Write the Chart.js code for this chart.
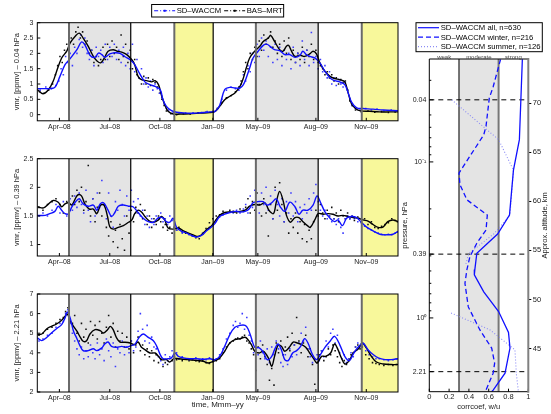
<!DOCTYPE html>
<html>
<head>
<meta charset="utf-8">
<script src="https://cdn.jsdelivr.net/npm/chart.js@4.4.0/dist/chart.umd.min.js"></script>
<style>
  body { margin: 0; background: #fff; width: 551px; height: 414px; position: relative; overflow: hidden; }
  canvas { position: absolute; }
</style>
</head>
<body>
<canvas id="pTop" width="402" height="135" style="left:0;top:0"></canvas>
<canvas id="pMid" width="402" height="130" style="left:0;top:140px"></canvas>
<canvas id="pBot" width="402" height="139" style="left:0;top:275px"></canvas>
<canvas id="pCor" width="155" height="414" style="left:396px;top:0"></canvas>
<script>
const FONT = '"Liberation Sans", Arial, sans-serif';
const BLUE = "#1010ff";

// x values are days counted from the start of the plotted period (22 Feb 2008)
const tickDays = [39, 128, 216.5, 310, 389.5, 492, 581];
const tickNames = ["Apr–08", "Jul–08", "Oct–08", "Jan–09", "May–09", "Aug–09", "Nov–09"];
const winterSpans = [[56, 165], [386, 496]];
const summerSpans = [[242, 310.6], [573, 637]];
const seriesNames = ["SD–WACCM", "BAS–MRT"];

// 0.04 hPa, smoothed
const wacTop = [[0,0.85],[11,0.85],[22,0.85],[31,0.89],[40,1.25],[49,1.63],[58,1.83],[70,2.12],[78,2.37],[84,2.28],[93,1.94],[102,1.87],[108,2.01],[114,1.96],[119,1.87],[128,1.98],[137,2.02],[146,2.0],[155,1.89],[164,1.79],[172,1.63],[181,1.33],[190,1.07],[199,0.98],[208,0.92],[217,0.82],[222,0.49],[228,0.27],[237,0.13],[246,0.08],[264,0.05],[281,0.05],[305,0.09],[314,0.11],[322,0.30],[331,0.82],[340,0.89],[349,0.87],[358,0.87],[364,0.98],[369,1.2],[375,1.52],[381,1.85],[390,2.07],[399,2.26],[405,2.3],[411,2.23],[419,2.12],[428,2.09],[437,1.96],[446,1.96],[455,1.87],[464,1.94],[469,2.07],[475,1.96],[481,1.90],[490,1.85],[499,1.69],[508,1.41],[517,1.2],[525,1.11],[534,1.07],[543,0.98],[549,0.71],[555,0.41],[564,0.22],[575,0.2],[593,0.18],[611,0.15],[637,0.13]];
const mrtTop = [[0,0.82],[10,0.68],[20,0.82],[28,1.09],[34,1.41],[43,1.85],[52,2.07],[58,2.34],[67,2.56],[74,2.66],[81,2.5],[90,2.23],[99,1.90],[105,1.76],[112,1.69],[119,1.87],[125,2.07],[134,2.12],[141,2.07],[149,2.04],[158,1.96],[167,1.79],[172,1.63],[178,1.25],[184,1.14],[193,1.11],[202,1.07],[208,1.11],[214,0.98],[219,0.65],[225,0.33],[231,0.11],[240,0.02],[252,0.02],[269,0.03],[287,0.05],[305,0.07],[314,0.11],[322,0.27],[331,0.49],[340,0.60],[349,0.71],[358,0.92],[364,1.2],[369,1.52],[375,1.85],[384,2.07],[393,2.23],[399,2.39],[408,2.5],[412,2.59],[419,2.39],[428,2.12],[434,2.07],[440,2.23],[444,2.26],[449,2.07],[455,1.90],[464,1.94],[472,1.90],[481,1.98],[487,2.07],[493,1.98],[499,1.69],[508,1.41],[517,1.25],[525,1.18],[534,1.14],[543,1.07],[549,0.71],[555,0.35],[561,0.22],[569,0.13],[587,0.11],[605,0.09],[622,0.09],[637,0.09]];
// 0.04 hPa, daily
const wacTopDaily = [[5,0.8],[15,0.9],[25,0.85],[33,0.95],[38,1.1],[42,1.5],[46,1.3],[50,1.9],[54,1.7],[58,2.0],[62,1.6],[66,2.2],[70,2.0],[74,2.45],[77,2.6],[80,2.2],[84,2.5],[88,2.0],[92,1.8],[96,2.1],[100,1.6],[104,2.2],[108,1.9],[112,2.1],[116,1.7],[120,2.3],[124,1.8],[128,2.2],[132,1.9],[136,2.3],[140,1.8],[144,2.1],[148,1.7],[152,2.2],[156,1.6],[160,2.0],[164,1.5],[168,2.3],[172,1.4],[176,1.8],[180,1.2],[184,1.5],[188,1.0],[192,1.2],[196,0.9],[200,1.1],[204,0.8],[208,1.0],[212,0.85],[216,0.7],[220,0.55],[224,0.35],[228,0.2],[232,0.15],[240,0.08],[250,0.06],[262,0.05],[275,0.06],[290,0.07],[300,0.1],[310,0.1],[318,0.2],[326,0.5],[334,0.8],[342,0.9],[350,0.85],[356,0.8],[360,1.0],[364,1.3],[368,1.1],[372,1.6],[376,1.4],[380,2.0],[384,1.7],[388,2.3],[392,1.9],[396,2.5],[400,2.1],[404,2.4],[408,1.9],[412,2.2],[416,1.7],[420,2.3],[424,1.8],[428,2.2],[432,1.6],[436,2.1],[440,1.8],[444,2.0],[448,1.5],[452,2.2],[456,1.7],[460,2.0],[464,1.6],[468,2.4],[472,1.8],[476,2.1],[480,1.6],[484,2.68],[488,1.7],[492,1.9],[496,1.5],[500,1.8],[504,1.4],[508,1.6],[512,1.2],[516,1.4],[520,1.0],[524,1.2],[528,0.95],[532,1.15],[536,1.0],[540,0.9],[544,1.05],[548,0.8],[552,0.5],[556,0.3],[562,0.2],[570,0.15],[580,0.2],[590,0.15],[600,0.18],[612,0.12],[625,0.15],[634,0.12]];
const mrtTopDaily = [[4,0.75],[12,0.7],[20,0.8],[27,1.0],[32,1.3],[36,1.6],[40,1.9],[44,1.7],[48,2.1],[52,2.3],[56,2.0],[60,2.5],[64,2.3],[68,2.7],[72,2.85],[76,2.5],[80,2.7],[84,2.3],[88,2.4],[92,2.0],[96,2.1],[100,1.7],[104,1.9],[108,1.6],[112,1.8],[116,2.2],[120,1.8],[124,2.3],[128,1.9],[132,2.4],[136,2.0],[140,2.2],[144,1.8],[148,2.6],[152,1.9],[156,2.3],[160,1.7],[164,2.1],[168,1.5],[172,1.8],[176,1.3],[180,1.2],[184,1.0],[188,1.25],[192,1.0],[196,1.2],[200,0.95],[204,1.15],[208,1.05],[212,0.9],[216,0.7],[220,0.5],[224,0.3],[228,0.12],[236,0.03],[246,0.0],[258,0.03],[270,0.02],[284,0.06],[298,0.08],[310,0.1],[318,0.2],[326,0.4],[334,0.55],[342,0.62],[350,0.75],[356,0.9],[360,1.1],[364,1.4],[368,1.7],[372,1.5],[376,2.0],[380,1.8],[384,2.2],[388,1.9],[392,2.4],[396,2.1],[400,2.6],[404,2.3],[408,2.5],[412,2.7],[416,2.2],[420,2.4],[424,2.0],[428,2.3],[432,1.9],[436,2.4],[440,2.0],[444,2.5],[448,1.8],[452,2.1],[456,1.7],[460,2.0],[464,1.8],[468,2.2],[472,1.7],[476,2.1],[480,1.9],[484,2.3],[488,1.8],[492,2.1],[496,1.7],[500,1.6],[504,1.5],[508,1.3],[512,1.4],[516,1.2],[520,1.3],[524,1.1],[528,1.2],[532,1.0],[536,1.15],[540,1.05],[544,1.1],[548,0.8],[552,0.45],[556,0.3],[562,0.15],[572,0.1],[584,0.12],[596,0.08],[608,0.1],[620,0.07],[632,0.09]];

// 0.39 hPa, smoothed
const wacMid = [[0,1.51],[14,1.51],[22,1.54],[31,1.58],[37,1.67],[43,1.60],[49,1.54],[55,1.54],[61,1.66],[67,1.74],[74,1.80],[81,1.71],[90,1.67],[99,1.69],[105,1.60],[111,1.71],[117,1.73],[124,1.62],[131,1.49],[137,1.56],[143,1.67],[152,1.69],[161,1.67],[169,1.66],[178,1.56],[187,1.46],[196,1.40],[205,1.39],[214,1.47],[221,1.47],[228,1.40],[234,1.39],[240,1.46],[246,1.30],[255,1.23],[264,1.20],[272,1.16],[281,1.13],[290,1.16],[299,1.24],[308,1.31],[314,1.37],[322,1.49],[331,1.53],[340,1.56],[349,1.58],[358,1.57],[367,1.58],[374,1.62],[381,1.73],[390,1.75],[399,1.75],[406,1.69],[414,1.73],[422,1.80],[429,1.66],[437,1.58],[446,1.74],[455,1.66],[462,1.53],[469,1.60],[478,1.60],[487,1.69],[494,1.85],[500,1.74],[508,1.57],[517,1.46],[525,1.40],[531,1.43],[539,1.33],[546,1.46],[555,1.49],[564,1.47],[572,1.39],[581,1.31],[593,1.24],[605,1.18],[617,1.17],[628,1.18],[637,1.23]];
const mrtMid = [[0,1.66],[11,1.64],[20,1.71],[28,1.77],[37,1.74],[43,1.66],[49,1.71],[55,1.73],[61,1.69],[67,1.80],[72,1.87],[78,1.85],[84,1.71],[92,1.62],[99,1.62],[105,1.54],[112,1.69],[118,1.69],[124,1.49],[128,1.31],[134,1.27],[143,1.30],[152,1.33],[161,1.39],[167,1.43],[172,1.54],[178,1.60],[184,1.57],[190,1.49],[198,1.41],[205,1.39],[214,1.43],[219,1.49],[225,1.43],[231,1.29],[240,1.27],[249,1.29],[258,1.24],[267,1.20],[275,1.17],[284,1.14],[290,1.17],[299,1.26],[308,1.33],[314,1.41],[322,1.51],[331,1.56],[340,1.57],[349,1.57],[358,1.58],[367,1.60],[375,1.67],[384,1.70],[393,1.69],[402,1.73],[409,1.60],[417,1.54],[422,1.74],[428,1.93],[434,1.77],[440,1.51],[447,1.39],[455,1.47],[462,1.47],[469,1.40],[477,1.33],[482,1.30],[490,1.43],[496,1.54],[505,1.53],[514,1.54],[522,1.53],[531,1.50],[540,1.51],[549,1.49],[558,1.47],[567,1.46],[575,1.43],[584,1.41],[593,1.35],[602,1.30],[611,1.31],[619,1.40],[628,1.43],[637,1.40]];
// 0.39 hPa, daily
const wacMidDaily = [[3,1.5],[10,1.55],[18,1.5],[26,1.6],[33,1.7],[40,1.55],[46,1.75],[52,1.5],[58,1.8],[62,1.6],[66,1.85],[70,1.65],[74,1.9],[78,1.7],[82,1.55],[86,1.95],[90,1.6],[94,1.4],[98,1.8],[102,1.5],[106,1.9],[110,1.65],[114,2.12],[118,1.7],[122,1.45],[126,1.9],[130,1.5],[134,1.3],[138,1.75],[142,1.6],[146,1.95],[150,1.7],[154,1.5],[158,1.85],[162,1.6],[166,1.95],[170,1.75],[174,1.55],[178,1.8],[182,1.5],[186,1.6],[190,1.35],[194,1.5],[198,1.3],[202,1.45],[206,1.35],[210,1.5],[214,1.45],[218,1.55],[222,1.4],[226,1.45],[230,1.35],[234,1.5],[238,1.42],[242,1.3],[246,1.25],[250,1.28],[256,1.2],[262,1.22],[268,1.17],[274,1.15],[280,1.13],[286,1.15],[292,1.2],[298,1.25],[304,1.3],[310,1.35],[316,1.42],[322,1.48],[328,1.52],[334,1.55],[340,1.57],[346,1.55],[352,1.6],[358,1.55],[364,1.62],[368,1.7],[372,1.55],[376,1.85],[380,1.65],[384,1.95],[388,1.7],[392,1.55],[396,1.9],[400,1.7],[404,2.0],[408,1.6],[412,1.85],[416,1.45],[420,1.95],[424,1.7],[428,1.5],[432,1.8],[436,1.4],[440,1.75],[444,1.55],[448,1.9],[452,1.5],[456,1.75],[460,1.4],[464,1.65],[468,1.45],[472,1.7],[476,1.55],[480,1.8],[484,1.6],[488,1.9],[492,2.05],[496,1.75],[500,1.6],[504,1.5],[508,1.6],[512,1.45],[516,1.5],[520,1.4],[524,1.45],[528,1.35],[532,1.45],[536,1.3],[540,1.2],[544,1.45],[548,1.5],[552,1.45],[556,1.5],[560,1.45],[566,1.4],[572,1.38],[578,1.32],[584,1.28],[590,1.25],[596,1.22],[602,1.2],[608,1.18],[614,1.17],[620,1.18],[626,1.17],[632,1.2],[636,1.22]];
const mrtMidDaily = [[3,1.65],[10,1.6],[18,1.7],[26,1.75],[33,1.8],[40,1.7],[46,1.55],[52,1.75],[58,1.6],[62,1.85],[66,1.7],[70,1.95],[74,1.75],[78,2.0],[82,1.6],[86,1.75],[90,2.38],[94,1.5],[98,1.8],[102,1.4],[106,1.65],[110,1.9],[114,1.5],[118,1.7],[122,1.3],[126,1.15],[130,1.4],[134,1.05],[138,1.25],[142,0.95],[146,1.35],[150,1.1],[154,0.9],[158,1.5],[162,1.2],[166,1.6],[170,1.4],[174,1.65],[178,1.55],[182,1.7],[186,1.45],[190,1.6],[194,1.35],[198,1.5],[202,1.3],[206,1.45],[210,1.35],[214,1.5],[218,1.4],[222,1.3],[226,1.35],[230,1.25],[234,1.3],[238,1.2],[242,1.3],[246,1.25],[250,1.3],[256,1.22],[262,1.2],[268,1.18],[274,1.15],[280,1.12],[286,1.1],[292,1.18],[298,1.28],[304,1.38],[310,1.45],[316,1.5],[322,1.52],[328,1.58],[334,1.55],[340,1.6],[346,1.58],[352,1.55],[358,1.62],[364,1.58],[368,1.65],[372,1.8],[376,1.55],[380,1.75],[384,1.6],[388,1.9],[392,1.7],[396,1.5],[400,1.8],[404,1.55],[408,1.15],[412,1.7],[416,1.45],[420,2.0],[424,1.6],[428,2.08],[432,1.7],[436,1.4],[440,1.55],[444,1.2],[448,1.45],[452,1.3],[456,1.55],[460,1.2],[464,1.4],[468,1.1],[472,1.35],[476,1.05],[480,1.25],[484,1.1],[488,1.4],[492,1.6],[496,1.5],[500,1.7],[504,1.55],[508,1.45],[512,1.6],[516,1.5],[520,1.65],[524,1.45],[528,1.55],[532,1.4],[536,1.6],[540,1.5],[544,1.45],[548,1.55],[552,1.45],[556,1.5],[560,1.42],[566,1.48],[572,1.4],[578,1.45],[584,1.35],[590,1.4],[596,1.3],[602,1.28],[608,1.32],[614,1.35],[620,1.38],[626,1.45],[632,1.42],[636,1.4]];

// 2.21 hPa, smoothed
const wacBot = [[0,4.76],[8,4.62],[17,4.79],[25,5.01],[34,5.23],[43,5.44],[49,5.78],[53,6.08],[58,5.78],[64,5.10],[70,4.72],[75,4.38],[81,4.11],[90,4.11],[99,4.21],[105,4.11],[114,4.25],[119,4.45],[125,4.55],[131,4.33],[140,4.28],[149,4.33],[158,4.28],[167,4.38],[172,4.42],[180,4.79],[187,4.96],[196,4.79],[205,4.62],[211,4.33],[217,3.91],[222,3.70],[231,3.70],[237,3.74],[243,3.99],[249,3.82],[258,3.74],[269,3.70],[281,3.70],[293,3.67],[305,3.70],[314,3.65],[322,3.82],[331,4.33],[340,4.93],[349,5.30],[358,5.40],[367,5.40],[372,5.23],[378,4.76],[384,4.28],[392,4.25],[399,4.04],[406,3.65],[414,3.82],[419,4.16],[425,4.45],[431,4.16],[437,3.65],[443,3.60],[451,3.99],[458,4.11],[465,4.33],[472,4.72],[478,4.50],[486,3.91],[493,3.65],[500,3.91],[508,4.28],[517,4.59],[525,4.84],[534,4.42],[543,3.82],[551,3.60],[559,3.99],[568,4.33],[575,4.50],[584,4.16],[593,3.91],[602,3.74],[614,3.65],[625,3.65],[637,3.70]];
const mrtBot = [[0,4.93],[8,4.96],[17,5.23],[25,5.35],[34,5.47],[43,5.66],[49,5.86],[53,5.98],[58,5.64],[64,5.35],[70,5.10],[75,4.84],[81,4.59],[87,4.62],[93,4.96],[102,5.18],[111,5.13],[117,5.01],[124,5.18],[129,5.35],[134,5.18],[140,4.76],[146,4.55],[155,4.54],[164,4.50],[172,4.42],[178,4.55],[184,4.28],[190,4.16],[199,3.99],[208,3.99],[214,3.82],[219,3.65],[228,3.65],[234,3.53],[241,3.70],[249,3.70],[258,3.67],[267,3.65],[275,3.63],[284,3.60],[293,3.57],[302,3.48],[314,3.60],[322,3.74],[331,4.08],[340,4.50],[349,4.67],[358,4.72],[367,4.79],[372,4.67],[378,4.42],[384,4.08],[392,3.99],[399,4.08],[408,3.74],[414,3.31],[419,3.82],[425,4.38],[431,4.33],[437,4.08],[445,4.28],[452,4.55],[459,4.50],[467,4.42],[474,4.28],[481,3.99],[488,3.70],[494,3.48],[502,3.82],[509,3.82],[518,3.99],[525,4.45],[531,4.16],[537,3.74],[543,3.43],[551,3.60],[558,3.99],[567,4.21],[574,4.50],[581,4.25],[590,3.82],[599,3.53],[611,3.43],[625,3.40],[637,3.40]];
// 2.21 hPa, daily
const wacBotDaily = [[3,4.6],[10,4.7],[18,4.9],[26,5.0],[33,5.3],[40,5.5],[46,5.6],[50,6.0],[54,6.2],[58,5.5],[62,5.0],[66,4.6],[70,4.2],[74,3.9],[78,4.3],[82,3.7],[86,4.1],[90,3.8],[94,4.4],[98,4.0],[102,3.7],[106,4.5],[110,3.9],[114,4.2],[118,3.6],[122,4.7],[126,4.1],[130,3.8],[134,4.5],[138,3.3],[142,4.2],[146,4.0],[150,4.6],[154,3.9],[158,4.3],[162,4.0],[166,4.6],[170,4.1],[174,4.3],[178,5.1],[182,6.0],[186,5.2],[190,4.6],[194,5.4],[198,4.5],[202,4.8],[206,4.3],[210,4.2],[214,3.8],[218,3.6],[222,3.4],[226,3.9],[230,3.6],[234,3.8],[238,4.1],[242,3.8],[246,4.0],[250,3.7],[256,3.8],[262,3.7],[268,3.65],[274,3.7],[280,3.75],[286,3.65],[292,3.7],[298,3.65],[304,3.75],[310,3.6],[316,3.7],[322,3.9],[328,4.2],[334,4.7],[340,5.0],[346,5.4],[350,5.6],[354,5.3],[358,5.5],[362,6.0],[366,5.2],[370,5.8],[374,4.9],[378,4.6],[382,4.0],[386,4.5],[390,3.9],[394,4.6],[398,4.0],[402,3.7],[406,4.2],[410,3.5],[414,4.3],[418,3.9],[422,4.6],[426,4.2],[430,3.5],[434,3.3],[438,3.9],[442,3.4],[446,4.2],[450,3.8],[454,4.4],[458,3.9],[462,4.5],[466,5.0],[470,4.6],[474,5.3],[478,4.2],[482,3.8],[486,3.5],[490,3.7],[494,3.9],[498,3.6],[502,4.1],[506,3.8],[510,4.6],[514,4.3],[518,5.0],[522,5.2],[526,4.5],[530,4.9],[534,4.0],[538,3.7],[542,3.9],[546,3.5],[550,3.7],[554,4.0],[558,3.8],[562,4.3],[566,4.5],[570,4.3],[574,4.4],[580,4.1],[586,3.9],[592,3.8],[598,3.7],[604,3.7],[612,3.65],[620,3.6],[628,3.65],[634,3.7]];
const mrtBotDaily = [[3,4.9],[10,5.0],[18,5.2],[26,5.3],[33,5.5],[40,5.7],[46,5.8],[50,6.1],[54,6.3],[58,5.7],[62,5.5],[66,5.9],[70,5.0],[74,4.6],[78,5.5],[82,4.8],[86,5.2],[90,4.5],[94,5.6],[98,4.9],[102,5.4],[106,4.7],[110,5.6],[114,5.0],[118,4.5],[122,5.3],[126,5.9],[130,4.8],[134,5.5],[138,4.3],[142,5.1],[146,4.6],[150,5.0],[154,4.3],[158,4.8],[162,4.2],[166,4.6],[170,4.0],[174,4.4],[178,4.8],[182,4.1],[186,4.4],[190,3.9],[194,4.2],[198,3.8],[202,4.1],[206,3.6],[210,3.9],[214,3.5],[218,3.7],[222,3.3],[226,3.5],[230,3.4],[234,3.7],[238,3.6],[242,3.8],[246,3.65],[250,3.7],[256,3.6],[262,3.7],[268,3.6],[274,3.65],[280,3.6],[286,3.55],[292,3.6],[298,3.5],[304,3.45],[310,3.55],[316,3.6],[322,3.7],[328,4.0],[334,4.3],[340,4.5],[346,4.6],[350,4.7],[354,4.75],[358,4.7],[362,4.8],[366,4.9],[370,4.6],[374,4.5],[378,4.2],[382,3.9],[386,3.1],[390,4.3],[394,3.7],[398,4.4],[402,3.8],[406,3.4],[410,2.6],[414,3.2],[418,2.35],[422,4.5],[426,4.0],[430,4.6],[434,3.9],[438,4.3],[442,4.8],[446,4.1],[450,5.0],[454,4.4],[458,5.8],[462,4.6],[466,4.0],[470,4.5],[474,4.9],[478,3.8],[482,4.2],[486,3.4],[490,2.4],[494,3.5],[498,3.9],[502,4.1],[506,3.6],[510,3.8],[514,4.2],[518,3.9],[522,4.4],[526,4.1],[530,3.8],[534,3.5],[538,3.3],[542,3.6],[546,3.4],[550,3.7],[554,3.9],[558,4.0],[562,4.3],[566,4.4],[570,4.2],[574,4.3],[580,3.9],[586,3.7],[592,3.5],[598,3.45],[604,3.4],[612,3.35],[620,3.4],[628,3.35],[634,3.4]];

// correlation profiles: [corrcoef, pressure hPa]
const profileNames = ["SD–WACCM all, n=630", "SD–WACCM winter, n=216", "SD–WACCM summer, n=126"];
const corrAll = [[0.94,0.022],[0.91,0.072],[0.85,0.113],[0.81,0.219],[0.69,0.29],[0.48,0.385],[0.46,0.49],[0.455,0.53],[0.55,0.68],[0.70,0.91],[0.80,1.24],[0.815,1.56],[0.765,2.26],[0.645,2.9],[0.63,2.97]];
const corrWinter = [[0.72,0.022],[0.645,0.033],[0.606,0.039],[0.573,0.059],[0.55,0.067],[0.30,0.118],[0.31,0.14],[0.38,0.175],[0.586,0.219],[0.573,0.273],[0.48,0.332],[0.41,0.405],[0.38,0.49],[0.36,0.6],[0.394,0.85],[0.51,1.19],[0.63,1.56],[0.66,1.95],[0.645,2.26],[0.573,2.9],[0.565,2.97]];
const corrSummer = [[0.226,0.04],[0.70,0.072],[0.85,0.113],[0.815,0.219],[0.65,0.29],[0.40,0.385],[0.37,0.45],null,[0.22,0.93],[0.61,1.19],[0.865,1.6],[0.88,2.3],[0.90,2.97]];
const refLevels = [0.04, 0.39, 2.21];
const pMajor = [0.04, 0.1, 0.39, 1, 2.21];
const pMajorNames = ["0.04", "10⁻¹", "0.39", "10⁰", "2.21"];
const pMinor = [0.03, 0.05, 0.06, 0.07, 0.08, 0.09, 0.2, 0.3, 0.4, 0.5, 0.6, 0.7, 0.8, 0.9, 2];
const altTicks = [45, 50, 55, 60, 65, 70];
const corrTicks = [0, 0.2, 0.4, 0.6, 0.8, 1];
const strengthNames = ["weak", "moderate", "strong"];
const strengthEdges = [0, 0.3, 0.7, 1];

const toXY = pairs => pairs.map(p => p ? { x: p[0], y: p[1] } : { x: null, y: null });

const seasonPlugin = {
  id: "seasons",
  beforeDatasetsDraw(chart) {
    const { ctx, chartArea: a, scales: { x } } = chart;
    ctx.save();
    const band = (spans, color) => {
      ctx.fillStyle = color;
      spans.forEach(([d0, d1]) => {
        const x0 = x.getPixelForValue(d0), x1 = x.getPixelForValue(d1);
        ctx.fillRect(x0, a.top, x1 - x0, a.bottom - a.top);
      });
    };
    band(winterSpans, "#e4e4e4");
    band(summerSpans, "#f8f89b");
    ctx.restore();
  },
  afterDatasetsDraw(chart) {
    const { ctx, chartArea: a, scales: { x, y } } = chart;
    ctx.save();
    const vline = (d, color, w) => {
      const px = x.getPixelForValue(d);
      ctx.strokeStyle = color;
      ctx.lineWidth = w;
      ctx.beginPath();
      ctx.moveTo(px, a.top);
      ctx.lineTo(px, a.bottom);
      ctx.stroke();
    };
    winterSpans.concat(summerSpans).forEach(([d0, d1]) => {
      vline(d0, "#6a6a6a", 2);
      if (d1 < x.max) vline(d1, "#000", 1.2);
    });
    ctx.strokeStyle = "#000";
    ctx.lineWidth = 1;
    ctx.beginPath();
    x.ticks.forEach(t => {
      const px = x.getPixelForValue(t.value);
      ctx.moveTo(px, a.bottom);
      ctx.lineTo(px, a.bottom - 3);
    });
    y.ticks.forEach(t => {
      const py = y.getPixelForValue(t.value);
      ctx.moveTo(a.left, py);
      ctx.lineTo(a.left + 3, py);
    });
    ctx.stroke();
    ctx.strokeRect(a.left, a.top, a.right - a.left, a.bottom - a.top);
    ctx.restore();
  }
};

const topLegend = {
  id: "topLegend",
  afterDraw(chart) {
    const { ctx, chartArea: a } = chart;
    const w = 132, h = 12.5, top = 4.5;
    const left = (a.left + a.right) / 2 - w / 2;
    ctx.save();
    ctx.fillStyle = "#fff";
    ctx.fillRect(left, top, w, h);
    ctx.strokeStyle = "#000";
    ctx.lineWidth = 1;
    ctx.strokeRect(left, top, w, h);
    const item = (x0, color, text) => {
      const yy = top + h / 2;
      ctx.strokeStyle = color;
      ctx.lineWidth = 1;
      ctx.setLineDash([4, 2, 1, 2]);
      ctx.beginPath();
      ctx.moveTo(x0, yy);
      ctx.lineTo(x0 + 21, yy);
      ctx.stroke();
      ctx.setLineDash([]);
      ctx.fillStyle = color;
      ctx.fillRect(x0 + 9.5, yy - 1, 2, 2);
      ctx.fillStyle = "#000";
      ctx.font = "7.7px " + FONT;
      ctx.textBaseline = "middle";
      ctx.fillText(text, x0 + 22.5, yy + 0.5);
    };
    item(left + 2.5, BLUE, seriesNames[0]);
    item(left + 72.5, "#000", seriesNames[1]);
    ctx.restore();
  }
};

function seriesChart(id, o) {
  const line = (pairs, color) => ({
    data: toXY(pairs), showLine: true, borderColor: color, borderWidth: 1.4,
    pointRadius: 0, tension: 0.35
  });
  const dots = (pairs, color) => ({
    data: toXY(pairs), showLine: false, pointStyle: "rect", pointRadius: 1.1,
    pointBorderWidth: 0, pointBackgroundColor: color, backgroundColor: color
  });
  return new Chart(document.getElementById(id), {
    type: "scatter",
    data: {
      datasets: [
        line(o.wac, BLUE),
        line(o.mrt, "#000"),
        dots(o.wacDaily, "#3a3aff"),
        dots(o.mrtDaily, "#111")
      ]
    },
    options: {
      responsive: false,
      animation: false,
      layout: { padding: { top: o.padTop, right: 3.7, left: 0, bottom: 0 } },
      plugins: { legend: { display: false }, tooltip: { enabled: false } },
      scales: {
        x: {
          type: "linear", min: 0, max: 637,
          afterFit: s => { s.height = o.xHeight; },
          afterBuildTicks: s => { s.ticks = tickDays.map(v => ({ value: v })); },
          ticks: {
            autoSkip: false, maxRotation: 0, padding: 2, color: "#222",
            font: { family: FONT, size: 7 },
            callback: (v, i) => tickNames[i]
          },
          grid: { display: false, drawTicks: false },
          border: { display: false },
          title: {
            display: !!o.xTitle, text: o.xTitle || "", color: "#222",
            font: { family: FONT, size: 8 }, padding: { top: 0, bottom: 4.2 }
          }
        },
        y: {
          type: "linear", min: o.yMin, max: o.yMax,
          afterFit: s => { s.width = 37.3; },
          afterBuildTicks: s => { s.ticks = o.yTicks.map(v => ({ value: v })); },
          ticks: {
            padding: 4, color: "#222", font: { family: FONT, size: 7 },
            callback: v => String(v)
          },
          grid: { display: false, drawTicks: false },
          border: { display: false },
          title: {
            display: true, text: o.yTitle, color: "#222",
            font: { family: FONT, size: 7.5 }, padding: { top: 12.5, bottom: 0 }
          }
        }
      }
    },
    plugins: o.legend ? [seasonPlugin, topLegend] : [seasonPlugin]
  });
}

seriesChart("pTop", {
  wac: wacTop, mrt: mrtTop, wacDaily: wacTopDaily, mrtDaily: mrtTopDaily,
  padTop: 22.7, xHeight: 14.2, yMin: -0.2, yMax: 3, yTicks: [0, 0.5, 1, 1.5, 2, 2.5, 3],
  yTitle: "vmr, [ppmv] – 0.04 hPa", legend: true
});
seriesChart("pMid", {
  wac: wacMid, mrt: mrtMid, wacDaily: wacMidDaily, mrtDaily: mrtMidDaily,
  padTop: 18.7, xHeight: 14, yMin: 0.8, yMax: 2.5, yTicks: [1, 1.5, 2, 2.5],
  yTitle: "vmr, [ppmv] – 0.39 hPa"
});
seriesChart("pBot", {
  wac: wacBot, mrt: mrtBot, wacDaily: wacBotDaily, mrtDaily: mrtBotDaily,
  padTop: 19, xHeight: 22, yMin: 2, yMax: 7, yTicks: [2, 3, 4, 5, 6, 7],
  yTitle: "vmr, [ppmv] – 2.21 hPa", xTitle: "time, Mmm–yy"
});

const corrPlugin = {
  id: "corrDeco",
  beforeDatasetsDraw(chart) {
    const { ctx, chartArea: a, scales: { x } } = chart;
    const x0 = x.getPixelForValue(strengthEdges[1]), x1 = x.getPixelForValue(strengthEdges[2]);
    ctx.save();
    ctx.fillStyle = "#e4e4e4";
    ctx.fillRect(x0, a.top, x1 - x0, a.bottom - a.top);
    ctx.lineWidth = 1.5;
    ctx.strokeStyle = "#4a4a4a";
    ctx.beginPath(); ctx.moveTo(x0, a.top); ctx.lineTo(x0, a.bottom); ctx.stroke();
    ctx.lineWidth = 2;
    ctx.strokeStyle = "#777";
    ctx.beginPath(); ctx.moveTo(x1, a.top); ctx.lineTo(x1, a.bottom); ctx.stroke();
    ctx.restore();
  },
  afterDraw(chart) {
    const { ctx, chartArea: a, scales: { x, y } } = chart;
    ctx.save();
    ctx.strokeStyle = "#000";
    ctx.lineWidth = 1;
    ctx.beginPath();
    ctx.moveTo(a.right, a.top); ctx.lineTo(a.left, a.top);
    ctx.lineTo(a.left, a.bottom); ctx.lineTo(a.right, a.bottom);
    corrTicks.forEach(v => {
      const px = x.getPixelForValue(v);
      ctx.moveTo(px, a.bottom); ctx.lineTo(px, a.bottom - 3);
    });
    pMajor.forEach(v => {
      const py = y.getPixelForValue(v);
      ctx.moveTo(a.left, py); ctx.lineTo(a.left + 4, py);
    });
    pMinor.forEach(v => {
      const py = y.getPixelForValue(v);
      ctx.moveTo(a.left, py); ctx.lineTo(a.left + 2, py);
    });
    ctx.stroke();
    ctx.strokeStyle = "#808080";
    ctx.lineWidth = 2;
    ctx.beginPath(); ctx.moveTo(a.right, a.top - 1); ctx.lineTo(a.right, a.bottom + 1); ctx.stroke();

    // right-hand axis title, reading bottom to top
    ctx.fillStyle = "#222";
    ctx.font = "7.5px " + FONT;
    ctx.textAlign = "center";
    ctx.textBaseline = "middle";
    ctx.save();
    ctx.translate(chart.width - 6, (a.top + a.bottom) / 2);
    ctx.rotate(-Math.PI / 2);
    ctx.fillText("Approx. altitude, km", 0, 0);
    ctx.restore();

    ctx.fillStyle = "#444";
    ctx.font = "6px " + FONT;
    ctx.textAlign = "center";
    ctx.textBaseline = "bottom";
    strengthNames.forEach((n, i) => {
      const c = (strengthEdges[i] + strengthEdges[i + 1]) / 2;
      ctx.fillText(n, x.getPixelForValue(c), a.top + 1);
    });

    // legend box
    const left = 20, top = 22.7, w = 126.3, h = 29;
    ctx.fillStyle = "#fff";
    ctx.fillRect(left, top, w, h);
    ctx.strokeStyle = "#000";
    ctx.lineWidth = 1;
    ctx.strokeRect(left, top, w, h);
    const styles = [
      { color: BLUE, dash: [] },
      { color: BLUE, dash: [5, 3] },
      { color: "#8c8cf5", dash: [1, 2] }
    ];
    ctx.textAlign = "left";
    ctx.textBaseline = "middle";
    ctx.font = "7.7px " + FONT;
    profileNames.forEach((n, i) => {
      const yy = top + 5 + i * 9.5;
      ctx.strokeStyle = styles[i].color;
      ctx.lineWidth = 1.2;
      ctx.setLineDash(styles[i].dash);
      ctx.beginPath(); ctx.moveTo(left + 2, yy); ctx.lineTo(left + 23, yy); ctx.stroke();
      ctx.setLineDash([]);
      ctx.fillStyle = "#000";
      ctx.fillText(n, left + 24.7, yy + 0.5);
    });
    ctx.restore();
  }
};

new Chart(document.getElementById("pCor"), {
  type: "scatter",
  data: {
    datasets: [
      { data: toXY(corrAll), showLine: true, borderColor: BLUE, borderWidth: 1.3, pointRadius: 0, tension: 0 },
      { data: toXY(corrWinter), showLine: true, borderColor: BLUE, borderWidth: 1.3, borderDash: [5, 3], pointRadius: 0, tension: 0 },
      { data: toXY(corrSummer), showLine: true, borderColor: "#8c8cf5", borderWidth: 1.1, borderDash: [1, 2], pointRadius: 0, tension: 0, spanGaps: false },
      ...refLevels.map(p => ({
        data: [{ x: 0, y: p }, { x: 0.96, y: p }], showLine: true, borderColor: "#000",
        borderWidth: 1, borderDash: [5, 4], pointRadius: 0
      }))
    ]
  },
  options: {
    responsive: false,
    animation: false,
    layout: { padding: { top: 59, left: 0, right: 0, bottom: 0 } },
    plugins: { legend: { display: false }, tooltip: { enabled: false } },
    scales: {
      x: {
        type: "linear", min: 0, max: 1,
        afterFit: s => { s.height = 22.3; },
        afterBuildTicks: s => { s.ticks = corrTicks.map(v => ({ value: v })); },
        ticks: { autoSkip: false, maxRotation: 0, padding: 1, color: "#222", font: { family: FONT, size: 7.5 }, callback: v => String(v) },
        grid: { display: false, drawTicks: false },
        border: { display: false },
        title: { display: true, text: "corrcoef, w/u", color: "#222", font: { family: FONT, size: 7.5 }, padding: { top: 0, bottom: 2.5 } }
      },
      y: {
        type: "logarithmic", reverse: true, min: 0.0219, max: 2.97,
        afterFit: s => { s.width = 33.3; },
        afterBuildTicks: s => { s.ticks = pMajor.map(v => ({ value: v })); },
        ticks: {
          autoSkip: false, padding: 3, color: "#222", font: { family: FONT, size: 7 },
          callback: v => pMajorNames[pMajor.indexOf(v)]
        },
        grid: { display: false, drawTicks: false },
        border: { display: false },
        title: { display: true, text: "pressure, hPa", color: "#222", font: { family: FONT, size: 7.5 }, padding: { top: 4.5, bottom: 0 } }
      },
      y2: {
        type: "linear", position: "right", min: 40.6, max: 74.5,
        afterFit: s => { s.width = 22.7; },
        afterBuildTicks: s => { s.ticks = altTicks.map(v => ({ value: v })); },
        ticks: { autoSkip: false, padding: 1.5, color: "#222", font: { family: FONT, size: 7.5 }, callback: v => String(v) },
        grid: { display: true, drawOnChartArea: false, drawTicks: true, tickLength: 3, color: "#000" },
        border: { display: false },
        title: { display: false }
      }
    }
  },
  plugins: [corrPlugin]
});
</script>
</body>
</html>
